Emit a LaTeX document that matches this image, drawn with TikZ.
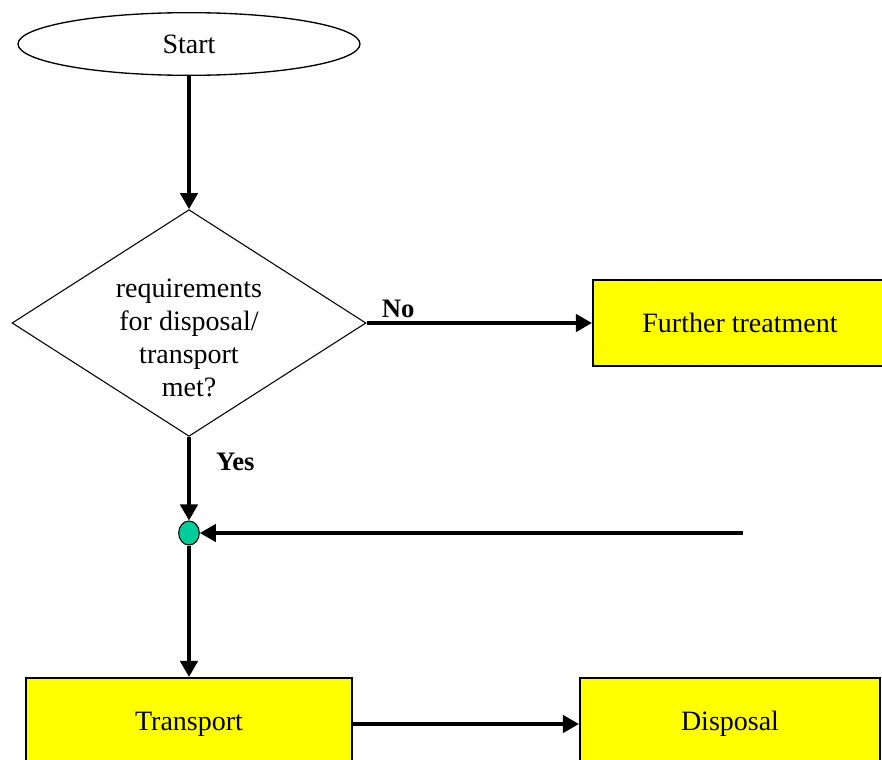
\documentclass[tikz,border=0pt]{standalone}
\usepackage{fontspec}
\setmainfont{Liberation Serif}
\usetikzlibrary{shapes.geometric,arrows.meta}
\definecolor{boxyellow}{RGB}{255,255,0}
\definecolor{joingreen}{RGB}{0,204,153}
\begin{document}
\begin{tikzpicture}[x=0.75pt,y=-0.75pt,
  every node/.style={font=\fontsize{21}{24.75}\selectfont},
  flow/.style={line width=2.5pt,-{Triangle[length=12pt,width=13pt]}},
  procbox/.style={draw,line width=1.6pt,fill=boxyellow,minimum width=#1,minimum height=64.5pt,inner sep=0pt},
  label/.style={font=\fontsize{20}{24}\selectfont\bfseries,inner sep=0pt}]
\useasboundingbox (0,0) rectangle (882,760);
\fill[white] (0,0) rectangle (882,760);

\node[draw,ellipse,line width=1pt,minimum width=256.5pt,minimum height=47pt,inner sep=0pt] (start) at (189,44) {Start};

\node[draw,diamond,line width=0.8pt,aspect=1.56,minimum width=265.5pt,minimum height=170pt,inner sep=0pt] (check) at (189,323) {};
\node[align=center,inner sep=0pt] (checktext) at ([yshift=-11pt]check.center)
  {requirements\\for disposal/\\transport\\met?};

\node[procbox=220.5pt] (treat) at (740,323) {\raisebox{-3pt}{Further treatment}};
\node[draw,ellipse,fill=joingreen,line width=0.8pt,minimum width=15.5pt,minimum height=18pt,inner sep=0pt] (join) at (189,533) {};
\coordinate (loopin) at (743,533);
\node[procbox=245pt,minimum height=69pt] (transport) at (189,724) {\raisebox{-2pt}{Transport}};
\node[procbox=225pt,minimum height=69pt] (disposal) at (730,724) {\raisebox{-2pt}{Disposal}};

\draw[flow] (start) -- (check.north);
\draw[flow] (check.east) -- (treat.west) node[label,pos=0.14,above=3pt] {No};
\draw[flow] (check.south) -- (join.north) node[label,pos=0.3,right=19pt] {Yes};
\draw[flow] (loopin) -- (join.east);
\draw[flow] (join.south) -- (transport.north);
\draw[flow] (transport.east) -- (disposal.west);
\end{tikzpicture}
\end{document}
